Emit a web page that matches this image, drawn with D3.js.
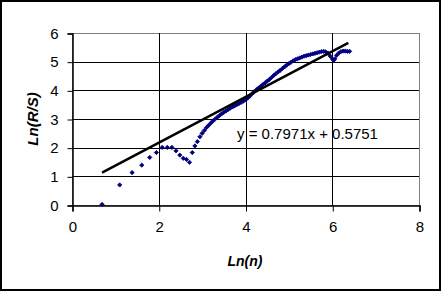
<!DOCTYPE html>
<html>
<head>
<meta charset="utf-8">
<script src="https://cdn.jsdelivr.net/npm/d3@7/dist/d3.min.js"></script>
<style>
  body { margin: 0; background: #fff; }
  svg { display: block; font-family: Arial, 'Liberation Sans', sans-serif; }
</style>
</head>
<body>
<svg id="chart" width="441" height="291"></svg>
<script>
// ln(n) for the first, widely spaced points
var sparseX = [0.693, 1.099, 1.386, 1.609, 1.792, 1.946, 2.079, 2.197, 2.303, 2.398, 2.485, 2.565, 2.639, 2.708, 2.773, 2.833, 2.890];
var sparseY = [0.02, 0.70, 1.13, 1.39, 1.66, 1.83, 2.01, 2.01, 2.01, 1.89, 1.74, 1.63, 1.59, 1.49, 1.83, 2.06, 2.21];

// dense part of the series
var denseX = [2.95, 3.00, 3.05, 3.10, 3.15, 3.20, 3.25, 3.30, 3.35, 3.40, 3.45, 3.50, 3.55, 3.60, 3.65, 3.70, 3.75, 3.80, 3.85, 3.90, 3.95,
  4.00, 4.05, 4.10, 4.15, 4.20, 4.25, 4.30, 4.35, 4.40, 4.45, 4.50, 4.55, 4.60, 4.65, 4.70, 4.75, 4.80, 4.85, 4.90, 4.95,
  5.00, 5.05, 5.10, 5.15, 5.20, 5.25, 5.30, 5.35, 5.40, 5.45, 5.50, 5.55, 5.60, 5.65, 5.70, 5.75, 5.80, 5.85, 5.90, 5.95,
  6.00, 6.03, 6.06, 6.10, 6.15, 6.20, 6.25, 6.30, 6.35, 6.40];
var denseY = [2.38, 2.50, 2.60, 2.70, 2.78, 2.86, 2.93, 3.00, 3.06, 3.12, 3.18, 3.23, 3.28, 3.33, 3.38, 3.42, 3.46, 3.50, 3.54, 3.58, 3.62,
  3.67, 3.73, 3.80, 3.88, 3.95, 4.02, 4.08, 4.14, 4.20, 4.26, 4.32, 4.38, 4.45, 4.52, 4.58, 4.64, 4.70, 4.76, 4.82, 4.88,
  4.93, 4.98, 5.03, 5.07, 5.10, 5.13, 5.16, 5.19, 5.21, 5.23, 5.25, 5.27, 5.29, 5.31, 5.33, 5.35, 5.36, 5.34, 5.30, 5.20,
  5.10, 5.04, 5.10, 5.22, 5.30, 5.35, 5.37, 5.37, 5.36, 5.36];

var slope = 0.7971, intercept = 0.5751;
var trendX = [0.693, 6.37];
var xTicks = [0, 2, 4, 6, 8];
var yTicks = [0, 1, 2, 3, 4, 5, 6];

var svg = d3.select('#chart');
var W = 441, H = 291;
var plot = {left: 72, right: 419, top: 33, bottom: 205};

svg.append('rect')
  .attr('x', 1).attr('y', 1)
  .attr('width', W - 2).attr('height', H - 2)
  .style('fill', '#fff')
  .style('stroke', '#000')
  .style('stroke-width', 2);

var x = d3.scaleLinear().domain([0, 8]).range([plot.left, plot.right]);
var y = d3.scaleLinear().domain([0, 6]).range([plot.bottom, plot.top]);

// plot area outline (grey on top/right)
svg.append('rect')
  .attr('x', plot.left + 0.5).attr('y', plot.top + 0.5)
  .attr('width', plot.right - plot.left).attr('height', plot.bottom - plot.top)
  .style('fill', 'none')
  .style('stroke', '#808080');

var grid = svg.append('g');
grid.selectAll('.hgrid')
  .data(yTicks.slice(1))
  .enter().append('line')
  .attr('class', 'hgrid')
  .attr('x1', plot.left).attr('x2', plot.right + 1)
  .attr('y1', function(d) { return Math.round(y(d)) + 0.5; })
  .attr('y2', function(d) { return Math.round(y(d)) + 0.5; })
  .style('stroke', function(d) { return d === 6 ? '#808080' : '#000'; });

grid.selectAll('.vgrid')
  .data(xTicks.slice(1))
  .enter().append('line')
  .attr('class', 'vgrid')
  .attr('y1', plot.top).attr('y2', plot.bottom)
  .attr('x1', function(d) { return Math.round(x(d)) + 0.5; })
  .attr('x2', function(d) { return Math.round(x(d)) + 0.5; })
  .style('stroke', function(d) { return d === 8 ? '#808080' : '#000'; });

var xAxis = d3.axisBottom(x).tickValues(xTicks).tickFormat(d3.format('d')).tickSize(6).tickPadding(10);
var yAxis = d3.axisLeft(y).tickValues(yTicks).tickFormat(d3.format('d')).tickSize(5).tickPadding(9);

var gx = svg.append('g')
  .attr('transform', 'translate(0.5,' + (plot.bottom + 0.5) + ')')
  .call(xAxis);
var gy = svg.append('g')
  .attr('transform', 'translate(' + (plot.left + 0.5) + ',0.5)')
  .call(yAxis);

[gx, gy].forEach(function(g) {
  g.select('.domain').style('stroke', '#000').style('stroke-width', 1.5);
  g.selectAll('.tick line').style('stroke', '#000');
  g.selectAll('.tick text')
    .style('font-size', '15px')
    .style('font-family', "Arial, 'Liberation Sans', sans-serif")
    .style('fill', '#000');
});

// series points
var points = [];
sparseX.forEach(function(v, i) { points.push([v, sparseY[i]]); });
denseX.forEach(function(v, i) { points.push([v, denseY[i]]); });

var marker = d3.symbol().type(d3.symbolSquare).size(9);
svg.append('g').selectAll('.pt')
  .data(points)
  .enter().append('path')
  .attr('class', 'pt')
  .attr('d', marker)
  .attr('transform', function(d) {
    return 'translate(' + x(d[0]) + ',' + y(d[1]) + ') rotate(45)';
  })
  .style('fill', '#000080')
  .style('stroke', '#000080')
  .style('stroke-width', 0.8);

// linear trendline
svg.append('line')
  .attr('x1', x(trendX[0])).attr('y1', y(slope * trendX[0] + intercept))
  .attr('x2', x(trendX[1])).attr('y2', y(slope * trendX[1] + intercept))
  .style('stroke', '#000')
  .style('stroke-width', 2.5);

svg.append('text')
  .attr('x', 237).attr('y', 139)
  .style('font-size', '15px')
  .text('y = 0.7971x + 0.5751');

svg.append('text')
  .attr('x', 245).attr('y', 266)
  .attr('text-anchor', 'middle')
  .style('font-size', '14px')
  .style('font-weight', 'bold')
  .style('font-style', 'italic')
  .text('Ln(n)');

svg.append('text')
  .attr('transform', 'translate(38,119) rotate(-90)')
  .attr('text-anchor', 'middle')
  .style('font-size', '15px')
  .style('font-weight', 'bold')
  .style('font-style', 'italic')
  .text('Ln(R/S)');
</script>
</body>
</html>
